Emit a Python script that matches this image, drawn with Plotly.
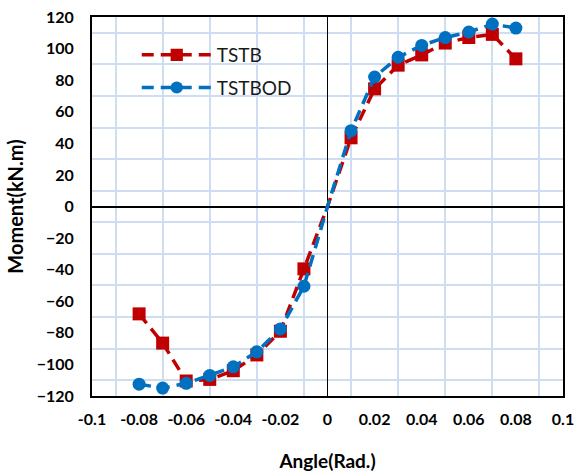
import plotly.graph_objects as go

angle = [-0.08, -0.07, -0.06, -0.05, -0.04, -0.03, -0.02, -0.01, 0.0,
         0.01, 0.02, 0.03, 0.04, 0.05, 0.06, 0.07, 0.08]
tstb = [-68, -86.5, -110.5, -109.5, -104, -94, -79, -39.5, 0,
        43.5, 74.5, 89.5, 96, 103.5, 107, 109, 93.5]
tstbod = [-112.5, -115, -112, -107, -101.5, -92, -77.5, -50.5, 0,
          48, 82, 94.5, 102, 107, 110.5, 115.5, 113]

x_tickvals = [-0.1, -0.08, -0.06, -0.04, -0.02, 0, 0.02, 0.04, 0.06, 0.08, 0.1]
x_ticktext = ["-0.1", "-0.08", "-0.06", "-0.04", "-0.02", "0", "0.02", "0.04", "0.06", "0.08", "0.1"]

marker_sizes = [0 if a == 0 else 13 for a in angle]

fig = go.Figure()
fig.add_trace(go.Scatter(
    x=angle, y=tstb, name="TSTB", mode="lines+markers", legendgroup="a",
    line=dict(color="#C00000", width=3.5, dash="12px,7px"),
    marker=dict(symbol="square", size=marker_sizes, color="#C00000", opacity=1,
                line=dict(width=0)),
))
fig.add_trace(go.Scatter(
    x=angle, y=tstbod, name="TSTBOD", mode="lines+markers", legendgroup="b",
    line=dict(color="#0070C0", width=3.5, dash="12px,7px"),
    marker=dict(symbol="circle", size=marker_sizes, color="#0070C0", opacity=1,
                line=dict(width=0)),
))

fam = "Lato, 'Open Sans', sans-serif"
grid_col = "#CFDDF1"

fig.update_layout(
    template="none",
    width=576, height=473,
    margin=dict(l=92, r=13, t=17, b=77, autoexpand=False),
    paper_bgcolor="white", plot_bgcolor="white",
    font=dict(family=fam, color="#000000"),
    legend=dict(
        x=0.095, y=0.95, xanchor="left", yanchor="top",
        bgcolor="rgba(0,0,0,0)", font=dict(size=19, color="#1a1a1a"),
        itemwidth=70, tracegroupgap=5, traceorder="grouped",
    ),
    xaxis=dict(
        range=[-0.1, 0.1], automargin=False,
        tickmode="array", tickvals=x_tickvals, ticktext=x_ticktext,
        showgrid=False,
        minor=dict(tickmode="linear", tick0=-0.09, dtick=0.02, showgrid=True,
                   gridcolor=grid_col, gridwidth=2, ticks=""),
        zeroline=True, zerolinecolor="#000000", zerolinewidth=1,
        showline=True, linecolor="#000000", linewidth=2, mirror=True,
        ticks="", tickfont=dict(family=fam, size=16, color="#000000", weight="bold"),
        ticklabelstandoff=8,
        title=dict(text="Angle(Rad.)", font=dict(family=fam, size=19, weight="bold"), standoff=27),
    ),
    yaxis=dict(
        range=[-120, 120], automargin=False,
        tickmode="linear", tick0=-120, dtick=20,
        showgrid=False,
        minor=dict(tickmode="linear", tick0=-110, dtick=20, showgrid=True,
                   gridcolor=grid_col, gridwidth=2, ticks=""),
        zeroline=True, zerolinecolor="#000000", zerolinewidth=1.5,
        showline=True, linecolor="#000000", linewidth=2, mirror=True,
        ticks="", tickfont=dict(family=fam, size=16, color="#000000", weight="bold"),
        ticklabelstandoff=13,
        title=dict(text="Moment(kN.m)", font=dict(family=fam, size=20, weight="bold"), standoff=8),
    ),
)

fig.write_html("out.html", config={"displayModeBar": False},
               post_script="document.body.style.margin='0';")
